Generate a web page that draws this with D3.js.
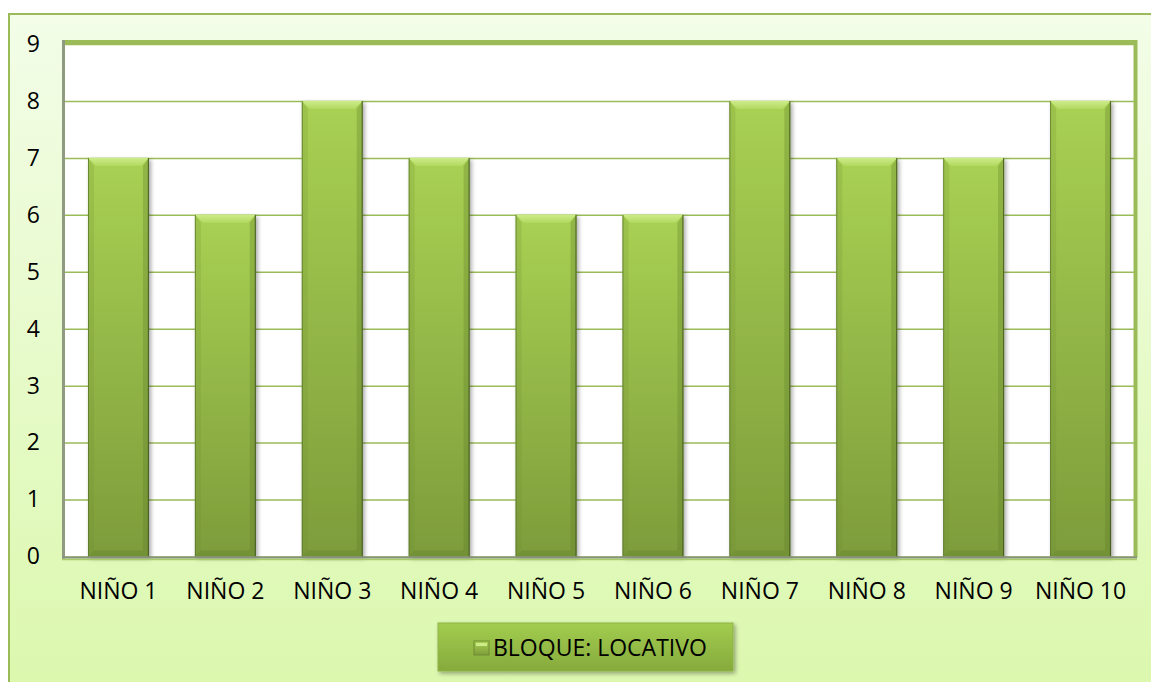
<!DOCTYPE html>
<html><head><meta charset="utf-8">
<script src="https://cdn.jsdelivr.net/npm/d3@7"></script>
<style>html,body{margin:0;padding:0;background:#fff;overflow:hidden}</style>
</head><body>
<script>
const categories = ["NIÑO 1","NIÑO 2","NIÑO 3","NIÑO 4","NIÑO 5","NIÑO 6","NIÑO 7","NIÑO 8","NIÑO 9","NIÑO 10"];
const values = [7,6,8,7,6,6,8,7,7,8];
const yTicks = [0,1,2,3,4,5,6,7,8,9];
const seriesName = "BLOQUE: LOCATIVO";

const W = 1151, H = 682;
const plot = {left: 65, right: 1134, top: 44, bottom: 556.5};
const font = "'Open Sans', sans-serif";
const fs = 23;

const svg = d3.select("body").append("svg").attr("width", W).attr("height", H);
const defs = svg.append("defs");

const bg = defs.append("linearGradient").attr("id","bgGrad").attr("x1",0).attr("y1",0).attr("x2",0).attr("y2",1);
bg.append("stop").attr("offset","0%").attr("stop-color","#f3fde8");
bg.append("stop").attr("offset","100%").attr("stop-color","#dbf8ad");

const bar = defs.append("linearGradient").attr("id","barGrad").attr("x1",0).attr("y1",0).attr("x2",0).attr("y2",1);
bar.append("stop").attr("offset","0%").attr("stop-color","#a9d153");
bar.append("stop").attr("offset","100%").attr("stop-color","#7d9c3b");

const topG = defs.append("linearGradient").attr("id","topGrad").attr("x1",0).attr("y1",0).attr("x2",0).attr("y2",1);
topG.append("stop").attr("offset","0%").attr("stop-color","#cdec88");
topG.append("stop").attr("offset","100%").attr("stop-color","#b2d962");

const leg = defs.append("linearGradient").attr("id","legGrad").attr("x1",0).attr("y1",0).attr("x2",0).attr("y2",1);
leg.append("stop").attr("offset","0%").attr("stop-color","#a2cd4f");
leg.append("stop").attr("offset","100%").attr("stop-color","#86aa3c");

const sh = defs.append("filter").attr("id","shadow").attr("x","-20%").attr("y","-20%").attr("width","140%").attr("height","140%");
sh.append("feDropShadow").attr("dx",2).attr("dy",2).attr("stdDeviation",2).attr("flood-color","#000").attr("flood-opacity",0.35);

// outer chart area
svg.append("rect").attr("x",9).attr("y",14).attr("width",W).attr("height",H)
  .attr("fill","url(#bgGrad)").attr("stroke","#9bbb59").attr("stroke-width",2);

const x = d3.scaleBand().domain(categories).range([plot.left, plot.right]).paddingInner(0.43).paddingOuter(0.215);
const y = d3.scaleLinear().domain([0,9]).range([plot.bottom, plot.top]);

// plot area
svg.append("rect").attr("x",plot.left).attr("y",plot.top).attr("width",plot.right-plot.left).attr("height",plot.bottom-plot.top)
  .attr("fill","#fff");

// gridlines
const gy = d3.axisLeft(y).tickValues(yTicks).tickSize(-(plot.right-plot.left)).tickFormat("");
const gridG = svg.append("g").attr("transform",`translate(${plot.left},0)`).call(gy);
gridG.select(".domain").remove();
gridG.selectAll("line").attr("stroke","#9bbb59").attr("stroke-width",1.5);

// bars
const bars = svg.append("g").selectAll("g").data(values).join("g");
bars.append("rect")
  .attr("x",(d,i)=>x(categories[i])).attr("y",d=>y(d))
  .attr("width",x.bandwidth()).attr("height",d=>y(0)-y(d))
  .attr("fill","url(#barGrad)").attr("filter","url(#shadow)");
bars.append("path").attr("d",(d,i)=>{
  const x0=x(categories[i]), x1=x0+x.bandwidth(), y0=y(d), b=8;
  return `M${x0},${y0}L${x1},${y0}L${x1-b},${y0+b}L${x0+b},${y0+b}Z`;
}).attr("fill","url(#topGrad)");
bars.append("path").attr("d",(d,i)=>{
  const x0=x(categories[i]), y0=y(d), y1=y(0), b=6;
  return `M${x0},${y0}L${x0+b},${y0+b+2}L${x0+b},${y1-b}L${x0},${y1}Z`;
}).attr("fill","#6f8c33").attr("opacity",0.2);
bars.append("path").attr("d",(d,i)=>{
  const x1=x(categories[i])+x.bandwidth(), y0=y(d), y1=y(0), b=6;
  return `M${x1},${y0}L${x1-b},${y0+b+2}L${x1-b},${y1-b}L${x1},${y1}Z`;
}).attr("fill","#5d7a28").attr("opacity",0.3);
bars.append("path").attr("d",(d,i)=>{
  const x0=x(categories[i]), x1=x0+x.bandwidth(), y1=y(0), b=6;
  return `M${x0},${y1}L${x0+b},${y1-b}L${x1-b},${y1-b}L${x1},${y1}Z`;
}).attr("fill","#5d7a28").attr("opacity",0.3);
bars.append("line")
  .attr("x1",(d,i)=>x(categories[i])+0.5).attr("x2",(d,i)=>x(categories[i])+0.5)
  .attr("y1",d=>y(d)).attr("y2",y(0)).attr("stroke","#55702a").attr("stroke-width",1).attr("opacity",0.7);
bars.append("line")
  .attr("x1",(d,i)=>x(categories[i])+x.bandwidth()-0.5).attr("x2",(d,i)=>x(categories[i])+x.bandwidth()-0.5)
  .attr("y1",d=>y(d)).attr("y2",y(0)).attr("stroke","#3f5420").attr("stroke-width",1.2).attr("opacity",0.8);

// plot area border: top/right green, left/bottom grey
svg.append("line").attr("x1",plot.left-1).attr("x2",plot.right+2).attr("y1",plot.top-2).attr("y2",plot.top-2)
  .attr("stroke","#9bbb59").attr("stroke-width",4);
svg.append("line").attr("x1",plot.right+1.5).attr("x2",plot.right+1.5).attr("y1",plot.top-4).attr("y2",plot.bottom+1)
  .attr("stroke","#9bbb59").attr("stroke-width",4);
svg.append("line").attr("x1",plot.left-1.5).attr("x2",plot.left-1.5).attr("y1",plot.top-4).attr("y2",plot.bottom+2)
  .attr("stroke","#8f9a80").attr("stroke-width",3);
svg.append("line").attr("x1",plot.left-3).attr("x2",plot.right+3).attr("y1",plot.bottom+1).attr("y2",plot.bottom+1)
  .attr("stroke","#8a8f85").attr("stroke-width",2);
svg.append("line").attr("x1",plot.left-3).attr("x2",plot.right+3).attr("y1",plot.bottom+3).attr("y2",plot.bottom+3)
  .attr("stroke","#a9cc6a").attr("stroke-width",1.5);

// y axis labels
const ya = d3.axisLeft(y).tickValues(yTicks).tickSize(0).tickPadding(0);
const yG = svg.append("g").attr("transform","translate(40,0)").call(ya);
yG.select(".domain").remove();
yG.selectAll("text").attr("font-family",font).attr("font-size",fs).attr("fill","#000");

// x axis labels
const xa = d3.axisBottom(x).tickSize(0).tickPadding(0);
const xG = svg.append("g").attr("transform",`translate(0,${plot.bottom+26})`).call(xa);
xG.select(".domain").remove();
xG.selectAll("text").attr("font-family",font).attr("font-size",fs).attr("fill","#000").attr("dy","0.71em");

// legend
const lg = svg.append("g");
lg.append("rect").attr("x",438).attr("y",623).attr("width",295).attr("height",48)
  .attr("fill","url(#legGrad)").attr("stroke","#8fb447").attr("stroke-width",1).attr("filter","url(#shadow)");
lg.append("rect").attr("x",474).attr("y",641).attr("width",15).attr("height",14)
  .attr("fill","url(#barGrad)").attr("stroke","#6f8c33").attr("stroke-width",1);
lg.append("rect").attr("x",476).attr("y",643).attr("width",11).attr("height",3).attr("fill","#cdec88");
lg.append("text").attr("x",493).attr("y",648).attr("dy","0.35em").attr("font-family",font).attr("font-size",fs)
  .attr("fill","#000").text(seriesName);
</script>
</body></html>
